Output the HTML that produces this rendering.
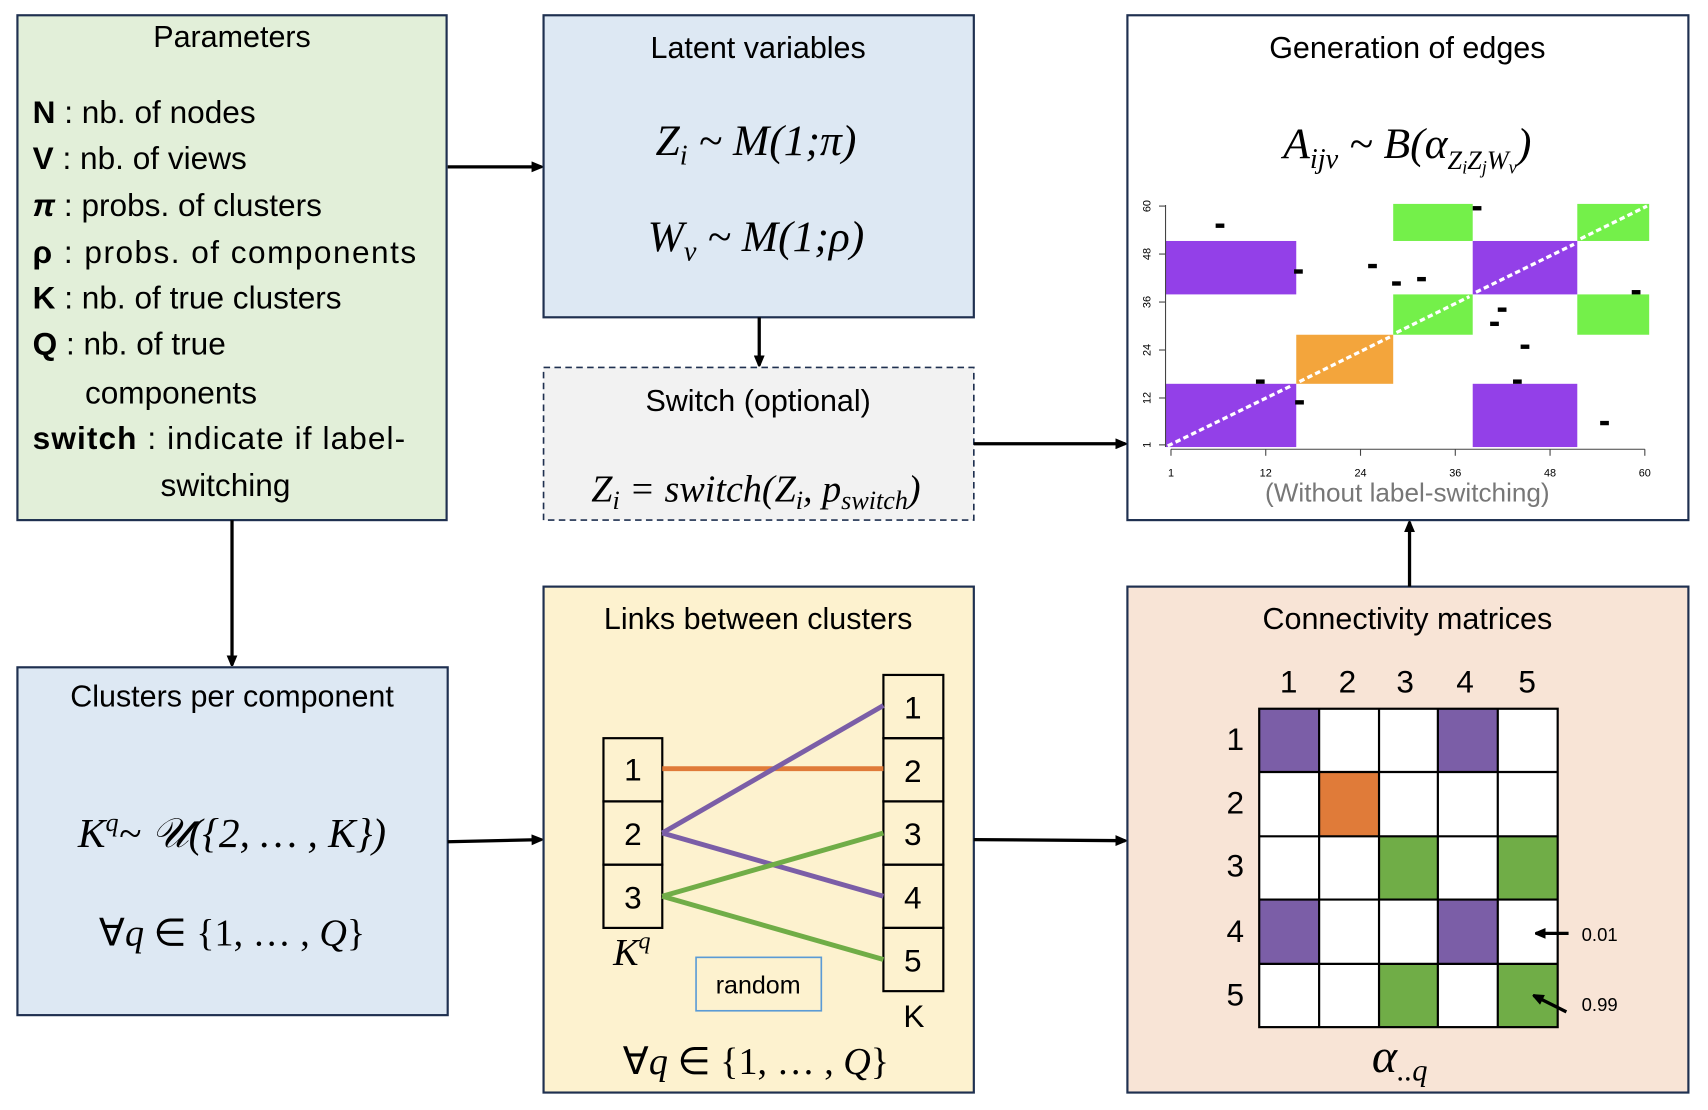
<!DOCTYPE html>
<html><head><meta charset="utf-8"><style>
html,body{margin:0;padding:0;background:#fff;}
svg{display:block;}
.t{font-family:"Liberation Sans",sans-serif;fill:#000;}
.m{font-family:"Liberation Serif",serif;font-style:italic;fill:#000;}
</style></head><body>
<svg width="1708" height="1110" viewBox="0 0 1568 1018" preserveAspectRatio="none" xmlns="http://www.w3.org/2000/svg">
<defs>
<marker id="ah" markerWidth="10" markerHeight="10" refX="9" refY="5" orient="auto" markerUnits="userSpaceOnUse">
<path d="M0,0 L12,5 L0,10 z" fill="#000"/></marker>
</defs>
<rect x="16" y="14" width="394" height="463" fill="#e2efd9" stroke="#1f3050" stroke-width="2"/>
<text class="t" x="213" y="43" font-size="28" text-anchor="middle">Parameters</text>
<g class="t" font-size="29">
<text x="30" y="113"><tspan font-weight="bold">N</tspan> : nb. of nodes</text>
<text x="30" y="155"><tspan font-weight="bold">V</tspan> : nb. of views</text>
<text x="30" y="198"><tspan font-weight="bold" font-style="italic">π</tspan> : probs. of clusters</text>
<text x="30" y="241" textLength="352"><tspan font-weight="bold">ρ</tspan> : probs. of components</text>
<text x="30" y="283"><tspan font-weight="bold">K</tspan> : nb. of true clusters</text>
<text x="30" y="325"><tspan font-weight="bold">Q</tspan> : nb. of true</text>
<text x="78" y="370">components</text>
<text x="30" y="412" textLength="342"><tspan font-weight="bold">switch</tspan> : indicate if label-</text>
<text x="207" y="455" text-anchor="middle">switching</text>
</g>
<rect x="499" y="14" width="395" height="277" fill="#dde8f3" stroke="#1f3050" stroke-width="2"/>
<text class="t" x="696" y="53" font-size="28" text-anchor="middle">Latent variables</text>
<text class="m" x="694" y="142" font-size="40" text-anchor="middle">Z<tspan font-size="26" dy="9">i</tspan><tspan dy="-9"> ~ M(1;π)</tspan></text>
<text class="m" x="694" y="230" font-size="40" text-anchor="middle">W<tspan font-size="26" dy="9">v</tspan><tspan dy="-9"> ~ M(1;ρ)</tspan></text>
<rect x="499" y="337" width="395" height="140" fill="#f2f2f2" stroke="#1f3050" stroke-width="1.5" stroke-dasharray="6,4"/>
<text class="t" x="696" y="377" font-size="28" text-anchor="middle">Switch (optional)</text>
<text class="m" x="694" y="460" font-size="35" text-anchor="middle">Z<tspan font-size="24" dy="7">i</tspan><tspan dy="-7"> = switch(Z</tspan><tspan font-size="24" dy="7">i</tspan><tspan dy="-7">, p</tspan><tspan font-size="24" dy="7">switch</tspan><tspan dy="-7">)</tspan></text>
<rect x="1035" y="14" width="515" height="463" fill="#fff" stroke="#1f3050" stroke-width="2"/>
<text class="t" x="1292" y="53" font-size="28" text-anchor="middle">Generation of edges</text>
<text class="m" x="1292" y="145" font-size="40" text-anchor="middle">A<tspan font-size="26" dy="9">ijv</tspan><tspan dy="-9"> ~ B(α</tspan><tspan font-size="24" dy="10">Z</tspan><tspan font-size="17" dy="4">i</tspan><tspan font-size="24" dy="-4">Z</tspan><tspan font-size="17" dy="4">j</tspan><tspan font-size="24" dy="-4">W</tspan><tspan font-size="17" dy="4">v</tspan><tspan dy="-14">)</tspan></text>
<g>
<rect x="1070" y="352" width="120" height="58" fill="#9340e8"/>
<rect x="1070" y="221" width="120" height="49" fill="#9340e8"/>
<rect x="1190" y="307" width="89" height="45" fill="#f3a53c"/>
<rect x="1279" y="187" width="73" height="34" fill="#74f04a"/>
<rect x="1279" y="270" width="73" height="37" fill="#74f04a"/>
<rect x="1352" y="221" width="96" height="49" fill="#9340e8"/>
<rect x="1352" y="352" width="96" height="58" fill="#9340e8"/>
<rect x="1448" y="187" width="66" height="34" fill="#74f04a"/>
<rect x="1448" y="270" width="66" height="37" fill="#74f04a"/>
<g stroke="#fff" stroke-width="3" stroke-dasharray="5,3">
<line x1="1072" y1="409" x2="1185" y2="354"/>
<line x1="1193" y1="350" x2="1276" y2="309"/>
<line x1="1282" y1="305" x2="1349" y2="272"/>
<line x1="1355" y1="268" x2="1445" y2="224"/>
<line x1="1451" y1="219" x2="1512" y2="189"/>
</g>
<g fill="#000">
<rect x="1116" y="205" width="8" height="4"/><rect x="1188" y="247" width="8" height="4"/>
<rect x="1256" y="242" width="8" height="4"/><rect x="1278" y="258" width="8" height="4"/>
<rect x="1301" y="254" width="8" height="4"/><rect x="1352" y="189" width="8" height="4"/>
<rect x="1498" y="266" width="8" height="4"/><rect x="1375" y="282" width="8" height="4"/>
<rect x="1368" y="295" width="8" height="4"/><rect x="1396" y="316" width="8" height="4"/>
<rect x="1153" y="348" width="8" height="4"/><rect x="1389" y="348" width="8" height="4"/>
<rect x="1189" y="367" width="8" height="4"/><rect x="1469" y="386" width="8" height="4"/>
</g>
<g stroke="#444" stroke-width="1" fill="none">
<line x1="1070" y1="188" x2="1070" y2="410"/>
<line x1="1075" y1="412" x2="1510" y2="412"/>
<line x1="1064" y1="189" x2="1070" y2="189"/><line x1="1064" y1="233" x2="1070" y2="233"/>
<line x1="1064" y1="277" x2="1070" y2="277"/><line x1="1064" y1="321" x2="1070" y2="321"/>
<line x1="1064" y1="365" x2="1070" y2="365"/><line x1="1064" y1="408" x2="1070" y2="408"/>
<line x1="1075" y1="412" x2="1075" y2="418"/><line x1="1162" y1="412" x2="1162" y2="418"/>
<line x1="1249" y1="412" x2="1249" y2="418"/><line x1="1336" y1="412" x2="1336" y2="418"/>
<line x1="1423" y1="412" x2="1423" y2="418"/><line x1="1510" y1="412" x2="1510" y2="418"/>
</g>
<g class="t" font-size="10" text-anchor="middle">
<text x="1075" y="437">1</text><text x="1162" y="437">12</text><text x="1249" y="437">24</text>
<text x="1336" y="437">36</text><text x="1423" y="437">48</text><text x="1510" y="437">60</text>
<text transform="translate(1056,189) rotate(-90)">60</text><text transform="translate(1056,233) rotate(-90)">48</text>
<text transform="translate(1056,277) rotate(-90)">36</text><text transform="translate(1056,321) rotate(-90)">24</text>
<text transform="translate(1056,365) rotate(-90)">12</text><text transform="translate(1056,408) rotate(-90)">1</text>
</g>
<text class="t" x="1292" y="460" font-size="24" text-anchor="middle" style="fill:#777">(Without label-switching)</text>
</g>
<rect x="16" y="612" width="395" height="319" fill="#dde8f3" stroke="#1f3050" stroke-width="2"/>
<text class="t" x="213" y="648" font-size="28" text-anchor="middle">Clusters per component</text>
<text class="m" x="213" y="777" font-size="38" text-anchor="middle">K<tspan font-size="24" dy="-15">q</tspan><tspan dy="15">~ 𝒰({2, … , K})</tspan></text>
<text class="m" x="213" y="867" font-size="35" text-anchor="middle"><tspan font-style="normal">∀</tspan>q <tspan font-style="normal">∈ {1, … ,</tspan> Q<tspan font-style="normal">}</tspan></text>
<rect x="499" y="538" width="395" height="464" fill="#fdf2cf" stroke="#1f3050" stroke-width="2"/>
<text class="t" x="696" y="577" font-size="28" text-anchor="middle">Links between clusters</text>
<g fill="none" stroke="#000" stroke-width="2">
<rect x="554" y="677" width="54" height="58"/><rect x="554" y="735" width="54" height="58"/><rect x="554" y="793" width="54" height="58"/>
<rect x="811" y="619" width="55" height="58"/><rect x="811" y="677" width="55" height="58"/><rect x="811" y="735" width="55" height="58"/>
<rect x="811" y="793" width="55" height="58"/><rect x="811" y="851" width="55" height="58"/>
</g>
<g stroke-width="4.5">
<line x1="608" y1="705" x2="811" y2="705" stroke="#e07b39"/>
<line x1="608" y1="764" x2="811" y2="647" stroke="#7b5ea7"/>
<line x1="608" y1="764" x2="811" y2="822" stroke="#7b5ea7"/>
<line x1="608" y1="822" x2="811" y2="764" stroke="#70ad47"/>
<line x1="608" y1="822" x2="811" y2="880" stroke="#70ad47"/>
</g>
<g class="t" font-size="29" text-anchor="middle">
<text x="581" y="716">1</text><text x="581" y="775">2</text><text x="581" y="833">3</text>
<text x="838" y="659">1</text><text x="838" y="717">2</text><text x="838" y="775">3</text>
<text x="838" y="833">4</text><text x="838" y="891">5</text>
<text x="839" y="942">K</text>
</g>
<text class="m" x="580" y="885" font-size="35" text-anchor="middle">K<tspan font-size="22" dy="-15">q</tspan></text>
<rect x="639" y="878" width="115" height="49" fill="#fdf2cf" stroke="#5b9bd5" stroke-width="1.5"/>
<text class="t" x="696" y="911" font-size="23" text-anchor="middle">random</text>
<text class="m" x="694" y="985" font-size="35" text-anchor="middle"><tspan font-style="normal">∀</tspan>q <tspan font-style="normal">∈ {1, … ,</tspan> Q<tspan font-style="normal">}</tspan></text>
<rect x="1035" y="538" width="515" height="464" fill="#f8e4d6" stroke="#1f3050" stroke-width="2"/>
<text class="t" x="1292" y="577" font-size="28" text-anchor="middle">Connectivity matrices</text>
<rect x="1156" y="650" width="274" height="292" fill="#fff"/>
<g>
<rect x="1156" y="650" width="55" height="58.4" fill="#7b5ea7"/>
<rect x="1320" y="650" width="55" height="58.4" fill="#7b5ea7"/>
<rect x="1211" y="708" width="55" height="58.4" fill="#e07b39"/>
<rect x="1266" y="767" width="54" height="58.4" fill="#70ad47"/>
<rect x="1375" y="767" width="55" height="58.4" fill="#70ad47"/>
<rect x="1156" y="825" width="55" height="58.4" fill="#7b5ea7"/>
<rect x="1320" y="825" width="55" height="58.4" fill="#7b5ea7"/>
<rect x="1266" y="884" width="54" height="58.4" fill="#70ad47"/>
<rect x="1375" y="884" width="55" height="58.4" fill="#70ad47"/>
</g>
<g stroke="#000" stroke-width="2" fill="none">
<rect x="1156" y="650" width="274" height="292"/>
<line x1="1211" y1="650" x2="1211" y2="942"/><line x1="1266" y1="650" x2="1266" y2="942"/>
<line x1="1320" y1="650" x2="1320" y2="942"/><line x1="1375" y1="650" x2="1375" y2="942"/>
<line x1="1156" y1="708" x2="1430" y2="708"/><line x1="1156" y1="767" x2="1430" y2="767"/>
<line x1="1156" y1="825" x2="1430" y2="825"/><line x1="1156" y1="884" x2="1430" y2="884"/>
</g>
<g class="t" font-size="29" text-anchor="middle">
<text x="1183" y="635">1</text><text x="1237" y="635">2</text><text x="1290" y="635">3</text><text x="1345" y="635">4</text><text x="1402" y="635">5</text>
<text x="1134" y="688">1</text><text x="1134" y="746">2</text><text x="1134" y="804">3</text><text x="1134" y="864">4</text><text x="1134" y="922">5</text>
</g>
<g stroke="#000" stroke-width="3">
<line x1="1440" y1="856" x2="1410" y2="856" marker-end="url(#ah)"/>
<line x1="1438" y1="928" x2="1408" y2="913" marker-end="url(#ah)"/>
</g>
<text class="t" x="1452" y="863" font-size="17">0.01</text>
<text class="t" x="1452" y="927" font-size="17">0.99</text>
<text class="m" x="1285" y="983" font-size="44" text-anchor="middle">α<tspan font-size="28" dy="8">..q</tspan></text>
<g stroke="#000" stroke-width="3" fill="none">
<line x1="411" y1="153" x2="497" y2="153" marker-end="url(#ah)"/>
<line x1="697" y1="291" x2="697" y2="335" marker-end="url(#ah)"/>
<line x1="894" y1="407" x2="1033" y2="407" marker-end="url(#ah)"/>
<line x1="1294" y1="538" x2="1294" y2="479" marker-end="url(#ah)"/>
<line x1="213" y1="477" x2="213" y2="610" marker-end="url(#ah)"/>
<line x1="411" y1="772" x2="497" y2="770" marker-end="url(#ah)"/>
<line x1="894" y1="770" x2="1033" y2="771" marker-end="url(#ah)"/>
</g>
</svg>
</body></html>
